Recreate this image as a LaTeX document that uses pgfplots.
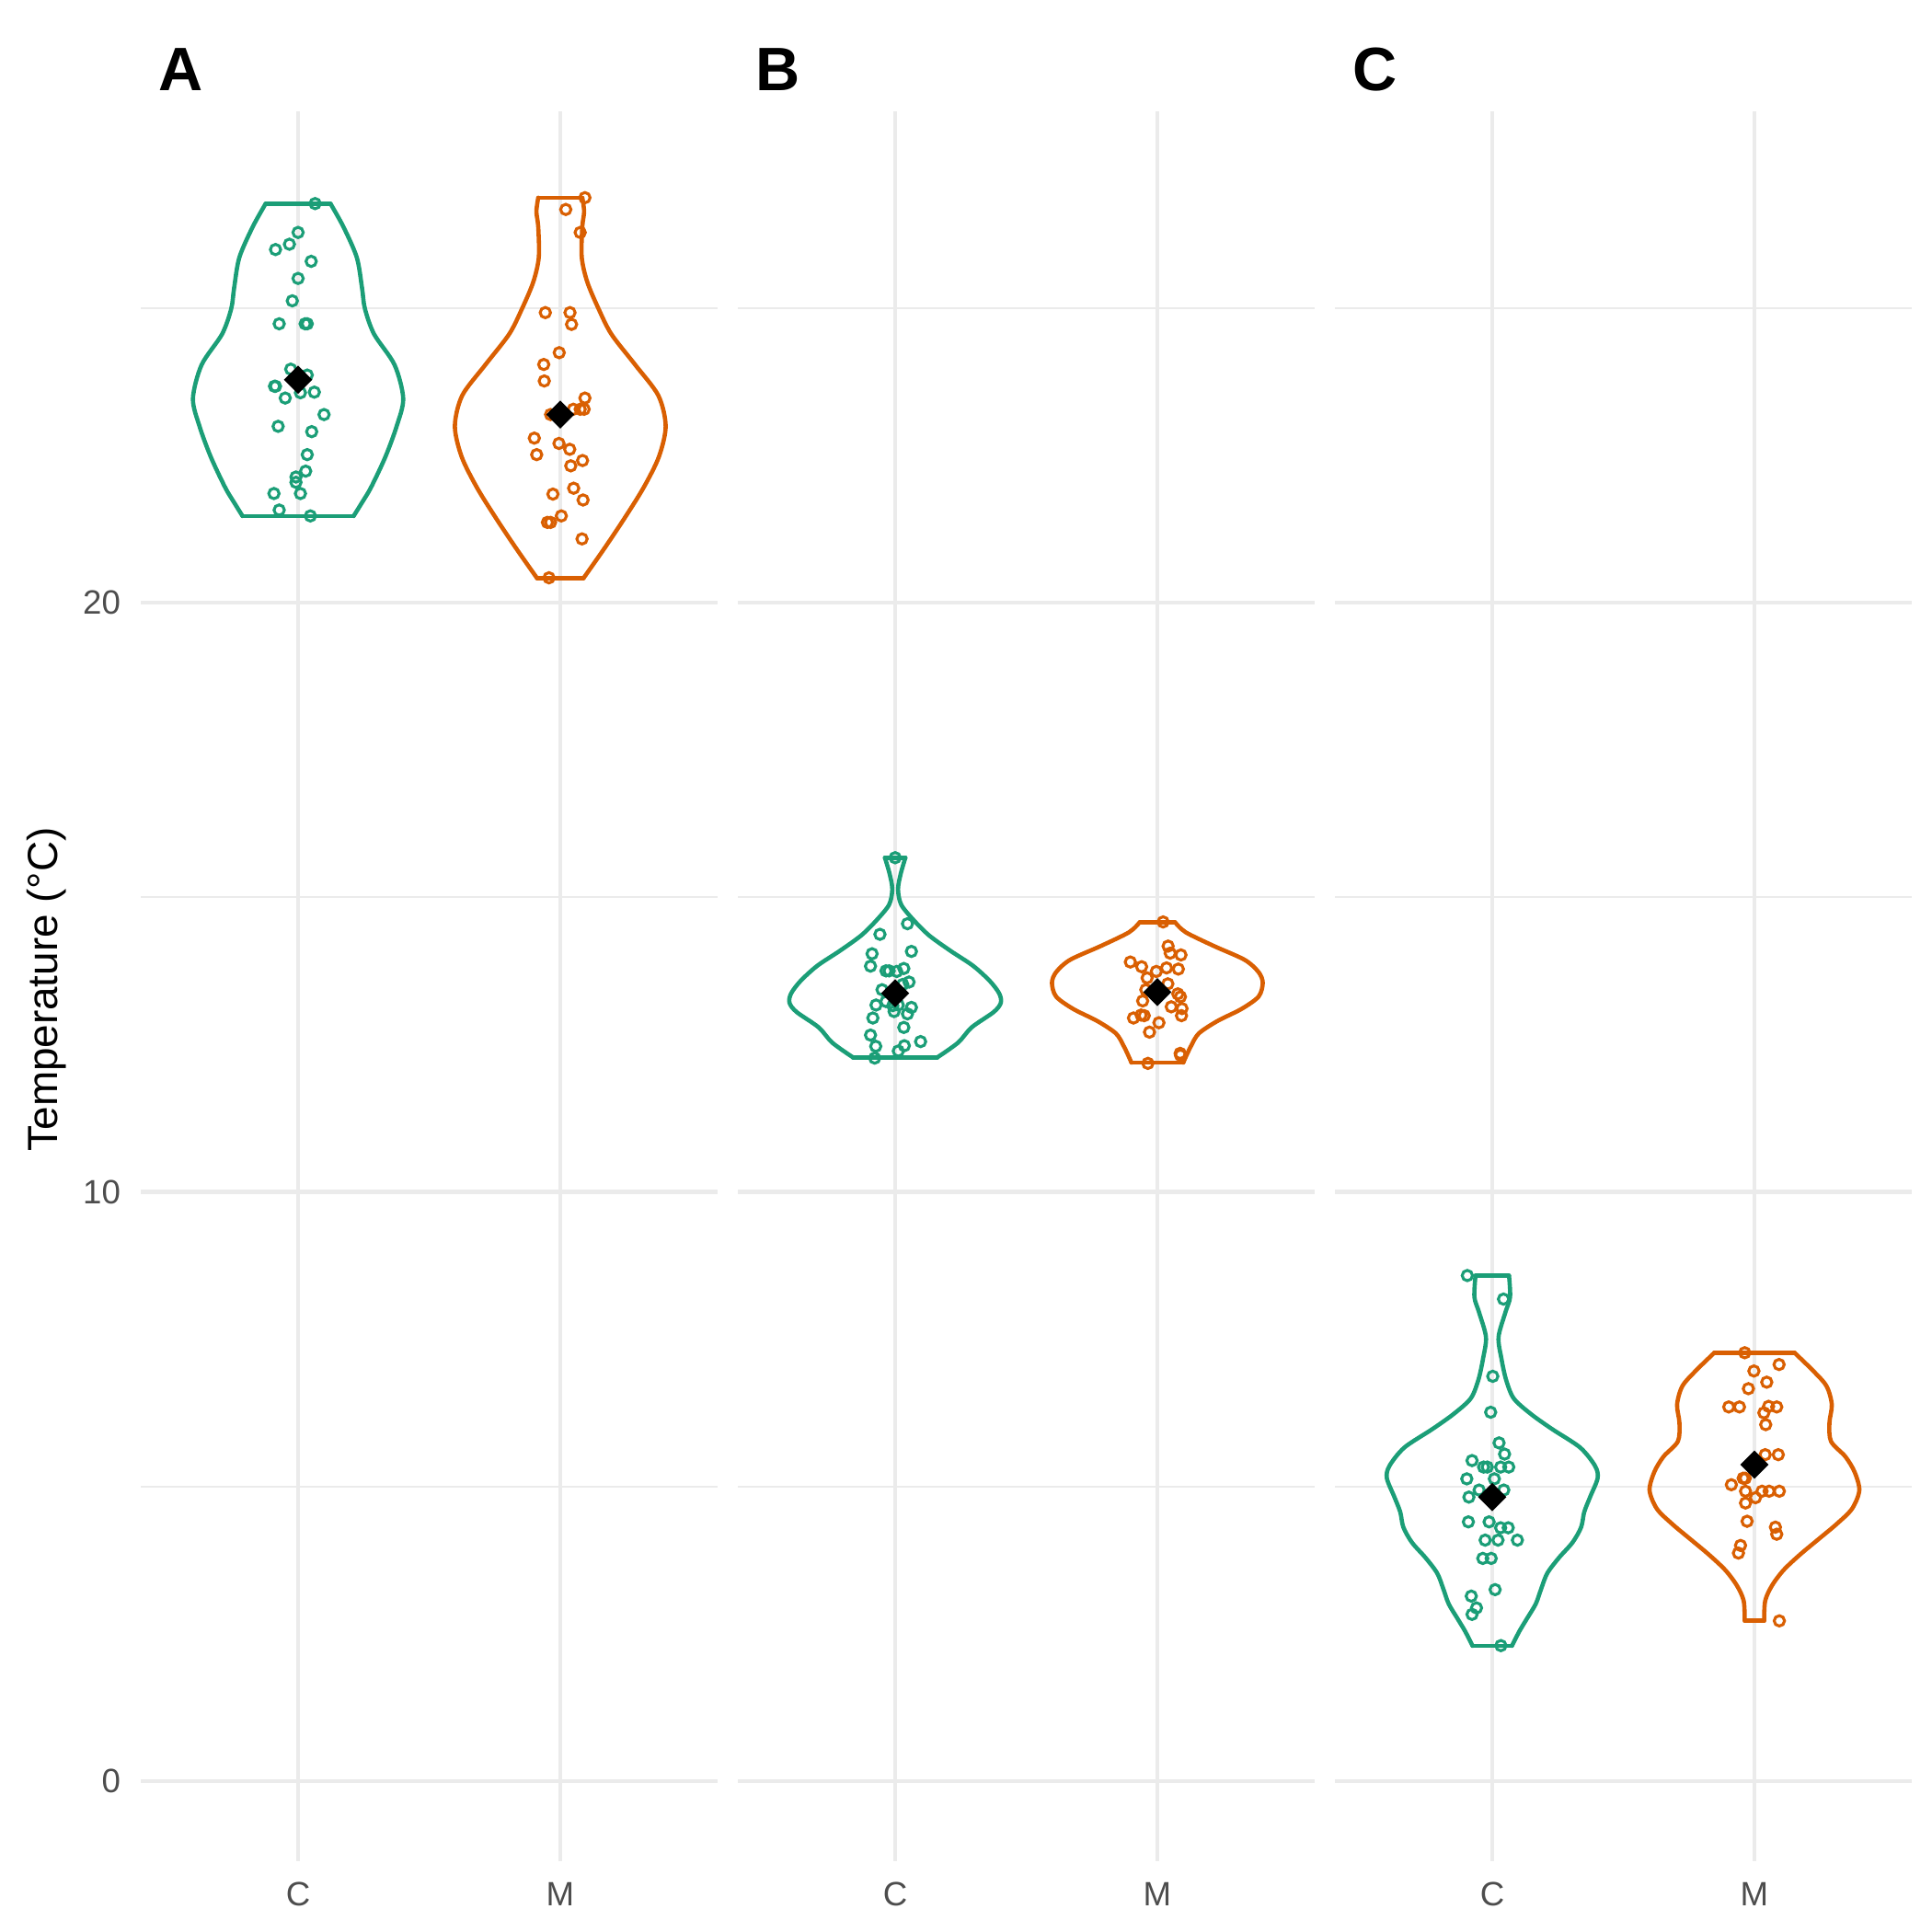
\documentclass[border=0pt]{standalone}
\usepackage{fontspec}
\setmainfont{Liberation Sans}
\usepackage{pgfplots}
\pgfplotsset{compat=1.18}
\usepackage{pgfplotstable}
\definecolor{cgreen}{HTML}{1B9E77}
\definecolor{corange}{HTML}{D95F02}
\definecolor{gridgrey}{HTML}{EBEBEB}
\definecolor{ticktext}{HTML}{4D4D4D}

% violin outlines: y, half width
\pgfplotstableread{
y w
26.766 0.124
26.375 0.173
25.855 0.224
25.335 0.244
24.985 0.255
24.554 0.290
24.033 0.368
23.461 0.401
22.993 0.376
22.472 0.333
21.952 0.278
21.691 0.243
21.468 0.212
}\ACv
\pgfplotstableread{
y w
26.870 0.084
26.635 0.091
26.375 0.084
25.855 0.082
25.439 0.103
24.985 0.146
24.554 0.195
24.033 0.286
23.513 0.374
22.993 0.402
22.472 0.376
21.952 0.318
21.431 0.245
20.911 0.167
20.416 0.089
}\AMv
\pgfplotstableread{
y w
15.670 0.039
15.394 0.021
15.134 0.011
14.874 0.023
14.614 0.070
14.353 0.129
14.093 0.210
13.833 0.298
13.573 0.362
13.365 0.397
13.208 0.403
13.052 0.376
12.792 0.292
12.532 0.240
12.282 0.161
}\BCv
\pgfplotstableread{
y w
14.577 0.067
14.405 0.108
14.171 0.216
13.937 0.333
13.729 0.386
13.547 0.402
13.313 0.386
13.104 0.321
12.896 0.228
12.688 0.158
12.480 0.129
12.324 0.112
12.194 0.099
}\BMv
\pgfplotstableread{
y w
8.577 0.064
8.212 0.068
7.952 0.050
7.536 0.024
7.171 0.035
6.807 0.053
6.495 0.082
6.235 0.146
5.975 0.228
5.662 0.335
5.350 0.392
5.142 0.402
4.830 0.374
4.569 0.351
4.309 0.339
4.049 0.306
3.789 0.254
3.529 0.210
3.268 0.187
3.008 0.166
2.748 0.131
2.540 0.103
2.295 0.075
}\CCv
\pgfplotstableread{
y w
7.265 0.154
6.963 0.224
6.703 0.275
6.391 0.295
6.079 0.286
5.766 0.292
5.506 0.347
5.246 0.382
4.934 0.400
4.621 0.372
4.361 0.313
4.101 0.243
3.841 0.173
3.581 0.111
3.320 0.067
3.060 0.041
2.722 0.037
}\CMv

% jittered points: dx, y
\pgfplotstableread{
dx y
0.065 26.77
0.000 26.28
-0.033 26.08
-0.086 25.99
0.050 25.79
0.000 25.50
-0.022 25.12
-0.072 24.73
0.027 24.73
0.035 24.73
-0.028 23.96
0.035 23.86
-0.090 23.67
-0.086 23.67
0.009 23.56
0.062 23.57
-0.049 23.47
0.099 23.19
-0.076 22.99
0.052 22.90
0.035 22.51
0.029 22.23
-0.008 22.13
-0.008 22.04
-0.092 21.85
0.009 21.85
-0.072 21.57
0.047 21.47
}\ACp
\pgfplotstableread{
dx y
0.094 26.87
0.021 26.67
0.076 26.28
-0.057 24.92
0.037 24.92
0.043 24.72
-0.004 24.24
-0.063 24.04
-0.061 23.76
0.094 23.47
0.050 23.28
0.076 23.28
0.091 23.28
-0.037 23.19
-0.099 22.79
-0.005 22.70
0.036 22.60
-0.090 22.51
0.085 22.41
0.040 22.32
-0.028 21.84
0.051 21.94
0.087 21.74
0.004 21.47
-0.049 21.36
-0.037 21.36
0.083 21.08
-0.043 20.42
}\AMp
\pgfplotstableread{
dx y
0.000 15.67
0.047 14.55
-0.058 14.37
0.062 14.08
-0.088 14.04
-0.094 13.83
-0.035 13.75
-0.023 13.75
0.006 13.74
0.033 13.79
0.053 13.56
0.029 13.52
-0.050 13.43
-0.035 13.23
-0.073 13.17
-0.009 13.16
0.012 13.17
-0.004 13.06
0.062 13.13
0.047 13.02
-0.085 12.95
0.033 12.79
-0.094 12.66
0.097 12.55
-0.074 12.47
0.035 12.48
0.012 12.39
-0.078 12.27
}\BCp
\pgfplotstableread{
dx y
0.022 14.58
0.041 14.17
0.049 14.05
0.090 14.02
-0.103 13.90
-0.060 13.82
0.035 13.80
0.080 13.78
-0.004 13.74
-0.039 13.63
0.040 13.53
-0.044 13.43
0.078 13.36
0.088 13.31
-0.056 13.24
0.053 13.14
0.094 13.11
0.092 12.99
-0.062 13.00
-0.050 12.99
-0.091 12.95
0.006 12.87
-0.030 12.71
0.087 12.35
0.088 12.32
-0.036 12.18
}\BMp
\pgfplotstableread{
dx y
-0.095 8.58
0.043 8.18
0.002 6.87
-0.006 6.26
0.026 5.74
0.047 5.55
-0.077 5.44
-0.033 5.33
-0.019 5.33
0.032 5.33
0.063 5.33
-0.097 5.13
0.008 5.13
-0.050 4.94
0.044 4.94
-0.089 4.82
-0.091 4.40
-0.012 4.40
0.032 4.30
0.061 4.30
-0.027 4.09
0.022 4.09
0.096 4.09
-0.036 3.78
-0.004 3.78
0.011 3.25
-0.080 3.14
-0.060 2.94
-0.077 2.83
0.033 2.30
}\CCp
\pgfplotstableread{
dx y
-0.037 7.27
0.094 7.07
-0.002 6.96
0.047 6.77
-0.023 6.66
-0.098 6.35
-0.057 6.35
0.054 6.36
0.085 6.35
0.036 6.25
0.043 6.05
0.041 5.54
0.091 5.54
-0.043 5.14
-0.035 5.14
-0.088 5.03
-0.034 4.92
0.029 4.92
0.056 4.92
0.095 4.92
0.004 4.81
-0.034 4.72
-0.028 4.41
0.080 4.31
0.085 4.19
-0.053 4.00
-0.061 3.87
0.095 2.72
}\CMp

\pgfplotsset{
  panel/.style={
    width=150.48pt, height=456.55pt, scale only axis,
    anchor=south west,
    xmin=0.4, xmax=2.6, ymin=-1.358, ymax=28.34,
    xtick={1,2}, xticklabels={C,M},
    ytick={0,10,20}, minor ytick={5,15,25},
    grid=both,
    major grid style={draw=gridgrey, line width=1.07pt},
    minor grid style={draw=gridgrey, line width=0.55pt},
    axis line style={draw=none},
    major tick length=0pt, minor tick length=0pt,
    /pgf/number format/assume math mode=true,
    ticklabel style={font=\fontsize{8.8}{10}\selectfont, text=ticktext},
    xticklabel style={anchor=north, inner sep=0pt, yshift=-5.3pt},
    yticklabel style={anchor=east, inner sep=0pt, xshift=-5.1pt},
  },
  vline/.style={line width=1.1pt, no marks, smooth, tension=0.5, line cap=round, line join=round},
  pts/.style={only marks, mark=o, mark size=1.35pt, every mark/.append style={line width=0.75pt}},
  meanpt/.style={only marks, mark=square*, mark size=2.4pt, mark options={fill=black, draw=none, rotate=45}},
}

\newcommand{\violin}[4]{% center, table, color
  \addplot[vline, #3] table[x expr=#1+\thisrow{w}, y=y] {#2};
  \addplot[vline, #3] table[x expr=#1-\thisrow{w}, y=y] {#2};
}

\begin{document}
\begin{tikzpicture}
\path[use as bounding box] (0,0) rectangle (504pt,-504pt);

% Panel A
\begin{axis}[panel, at={(36.72pt,-485.52pt)}]
\violin{1}{\ACv}{cgreen}{}
\addplot[vline, cgreen] coordinates {(0.876,26.766) (1.124,26.766)};
\addplot[vline, cgreen] coordinates {(0.788,21.468) (1.212,21.468)};
\violin{2}{\AMv}{corange}{}
\addplot[vline, corange] coordinates {(1.916,26.870) (2.084,26.870)};
\addplot[vline, corange] coordinates {(1.911,20.416) (2.089,20.416)};
\addplot[pts, cgreen] table[x expr=1+\thisrow{dx}, y=y] {\ACp};
\addplot[pts, corange] table[x expr=2+\thisrow{dx}, y=y] {\AMp};
\addplot[meanpt] coordinates {(1,23.78) (2,23.19)};
\end{axis}

% Panel B
\begin{axis}[panel, at={(192.48pt,-485.52pt)}, yticklabels={}]
\violin{1}{\BCv}{cgreen}{}
\addplot[vline, cgreen] coordinates {(0.961,15.670) (1.039,15.670)};
\addplot[vline, cgreen] coordinates {(0.839,12.282) (1.161,12.282)};
\violin{2}{\BMv}{corange}{}
\addplot[vline, corange] coordinates {(1.933,14.577) (2.067,14.577)};
\addplot[vline, corange] coordinates {(1.901,12.194) (2.099,12.194)};
\addplot[pts, cgreen] table[x expr=1+\thisrow{dx}, y=y] {\BCp};
\addplot[pts, corange] table[x expr=2+\thisrow{dx}, y=y] {\BMp};
\addplot[meanpt] coordinates {(1,13.37) (2,13.39)};
\end{axis}

% Panel C
\begin{axis}[panel, at={(348.24pt,-485.52pt)}, yticklabels={}]
\violin{1}{\CCv}{cgreen}{}
\addplot[vline, cgreen] coordinates {(0.936,8.577) (1.064,8.577)};
\addplot[vline, cgreen] coordinates {(0.925,2.295) (1.075,2.295)};
\violin{2}{\CMv}{corange}{}
\addplot[vline, corange] coordinates {(1.846,7.265) (2.154,7.265)};
\addplot[vline, corange] coordinates {(1.963,2.722) (2.037,2.722)};
\addplot[pts, cgreen] table[x expr=1+\thisrow{dx}, y=y] {\CCp};
\addplot[pts, corange] table[x expr=2+\thisrow{dx}, y=y] {\CMp};
\addplot[meanpt] coordinates {(1,4.82) (2,5.37)};
\end{axis}

\node[anchor=base west, inner sep=0pt, font=\fontsize{16}{19}\selectfont\bfseries] at (41.28pt,-23.52pt) {A};
\node[anchor=base west, inner sep=0pt, font=\fontsize{16}{19}\selectfont\bfseries] at (197.04pt,-23.52pt) {B};
\node[anchor=base west, inner sep=0pt, font=\fontsize{16}{19}\selectfont\bfseries] at (352.8pt,-23.52pt) {C};
\node[rotate=90, inner sep=0pt, font=\fontsize{11}{13}\selectfont] at (12.2pt,-258.1pt) {Temperature (°C)};
\end{tikzpicture}
\end{document}
